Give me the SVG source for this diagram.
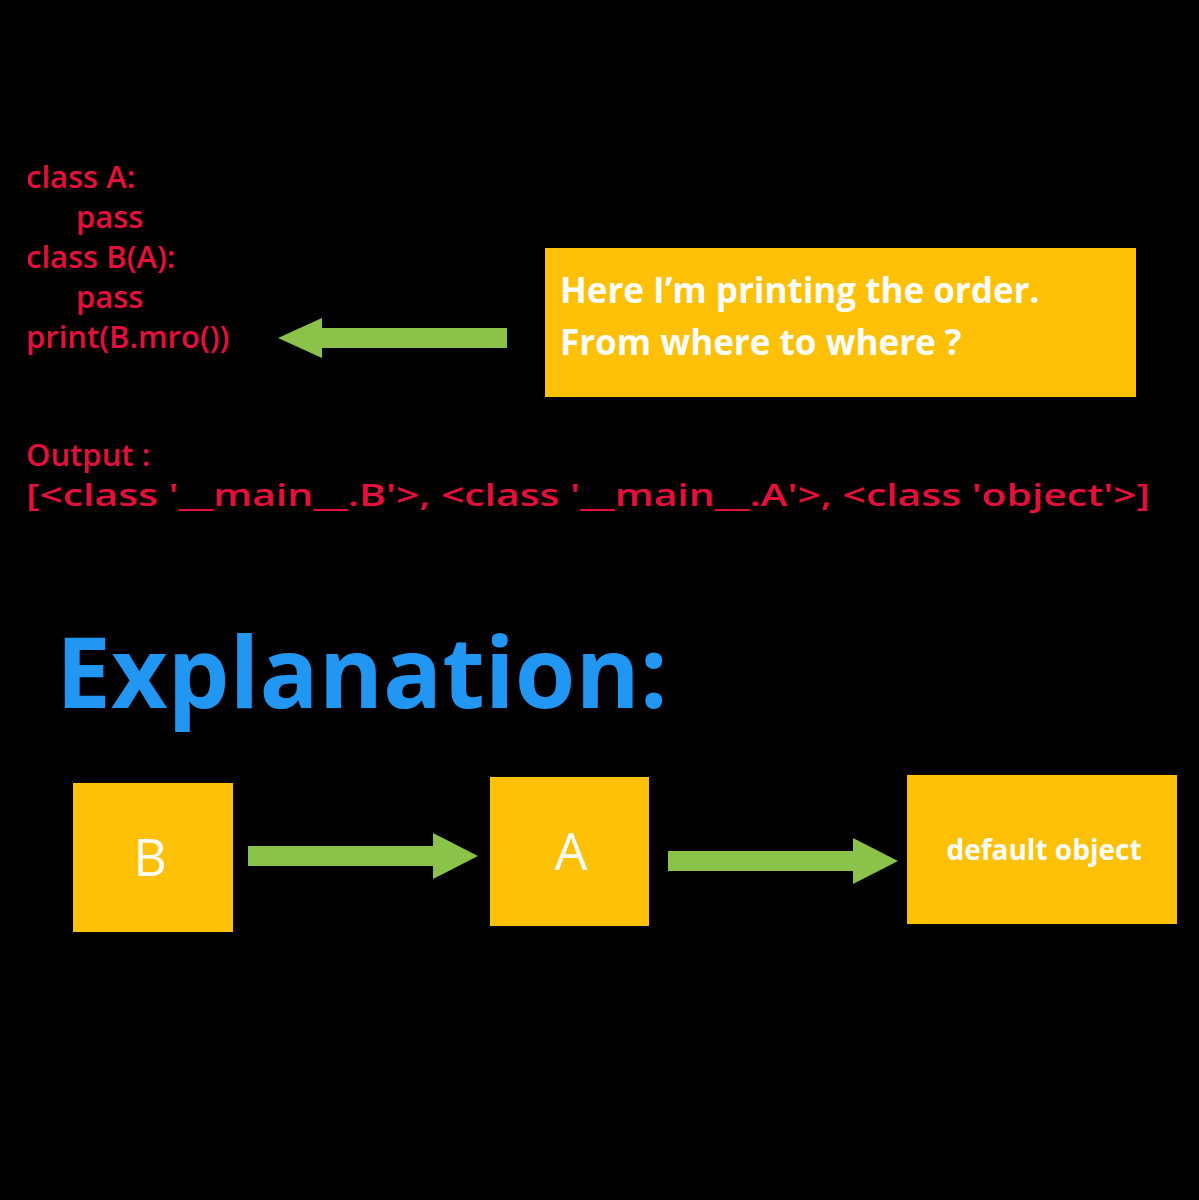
<svg xmlns="http://www.w3.org/2000/svg" width="1199" height="1200" viewBox="0 0 1199 1200">
<style>
.code{font-family:"Open Sans","DejaVu Sans",sans-serif;font-weight:600;font-size:31px;fill:#e3103c}
.box{fill:#ffc107}
.arr{fill:#8bc34a}
.lbl{font-family:"Open Sans","DejaVu Sans",sans-serif;fill:#fff;text-anchor:middle}
</style>
<rect width="1199" height="1200" fill="#000"/>
<g id="code">
<text class="code" x="26" y="188">class A:</text>
<text class="code" x="76" y="228">pass</text>
<text class="code" x="26" y="268">class B(A):</text>
<text class="code" x="76" y="308">pass</text>
<text class="code" x="26" y="348">print(B.mro())</text>
<text class="code" x="26" y="466">Output :</text>
<text class="code" x="26" y="506" textLength="1124" lengthAdjust="spacingAndGlyphs">[&lt;class '__main__.B'&gt;, &lt;class '__main__.A'&gt;, &lt;class 'object'&gt;]</text>
</g>
<g id="note">
<rect class="box" x="545" y="248" width="591" height="149"/>
<text x="560" y="303" font-family="'Open Sans','DejaVu Sans',sans-serif" font-weight="700" font-size="35" fill="#fff">Here I’m printing the order.</text>
<text x="560" y="355" font-family="'Open Sans','DejaVu Sans',sans-serif" font-weight="700" font-size="35" fill="#fff">From where to where ?</text>
</g>
<text id="title" x="56" y="708" font-family="'Open Sans','DejaVu Sans',sans-serif" font-weight="700" font-size="98" fill="#2196f3">Explanation:</text>
<g id="nodeB"><rect class="box" x="73" y="783" width="160" height="149"/><text class="lbl" x="150" y="876" font-size="52">B</text></g>
<g id="nodeA"><rect class="box" x="490" y="777" width="159" height="149"/><text class="lbl" x="571" y="870" font-size="52">A</text></g>
<g id="nodeObj"><rect class="box" x="907" y="775" width="270" height="149"/><text class="lbl" x="1044" y="860" font-family="'Liberation Serif',serif" font-weight="700" font-size="28">default object</text></g>
<g id="connectors">
<polygon class="arr" points="507,328 322,328 322,318 278,338 322,358 322,348 507,348"/>
<polygon class="arr" points="248,846 433,846 433,833 478,856 433,879 433,866 248,866"/>
<polygon class="arr" points="668,851 853,851 853,838 898,861 853,884 853,871 668,871"/>
</g>
</svg>
